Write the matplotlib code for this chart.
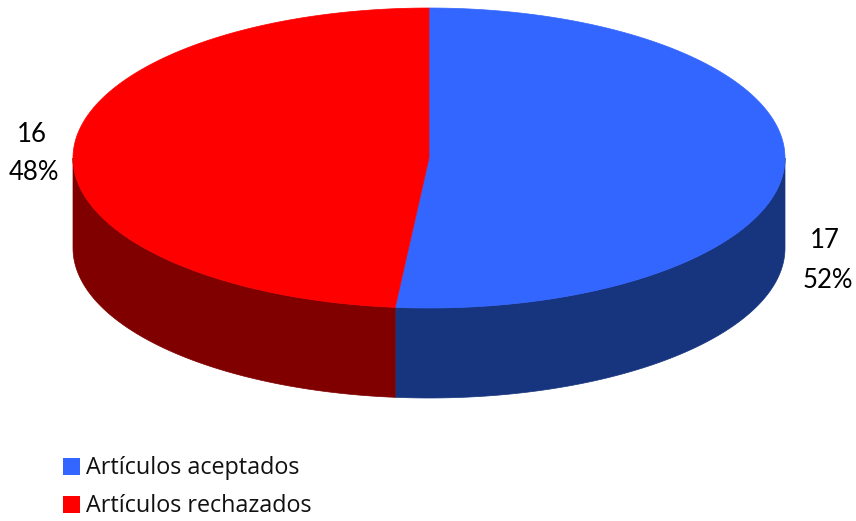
import numpy as np
import matplotlib
matplotlib.use('Agg')
import matplotlib.pyplot as plt
from matplotlib.patches import Rectangle

categories = ['Artículos aceptados', 'Artículos rechazados']
values = [17, 16]
percent_labels = ['52%', '48%']
top_colors = ['#3366FF', '#FF0000']
side_colors = ['#17357F', '#800000']

W, H = 856, 521
cx, cy = 429, 158
rx, ry = 356, 150
depth = 90

plt.rcParams['font.family'] = ['Lato', 'DejaVu Sans']
fig = plt.figure(figsize=(W / 100, H / 100), dpi=100)
ax = fig.add_axes([0, 0, 1, 1])
ax.set_xlim(0, W)
ax.set_ylim(H, 0)
ax.axis('off')


def rim(a0, a1):
    # angles clockwise from 12 o'clock
    t = np.linspace(a0, a1, 200)
    return cx + rx * np.sin(t), cy - ry * np.cos(t)


fractions = np.array(values) / sum(values)
edges = np.concatenate([[0], np.cumsum(fractions)]) * 2 * np.pi

# side walls first, only the front half of the rim shows
for i in range(len(values)):
    a0 = max(edges[i], np.pi / 2)
    a1 = min(edges[i + 1], 3 * np.pi / 2)
    x, y = rim(a0, a1)
    ax.fill(np.r_[x, x[::-1]], np.r_[y, y[::-1] + depth],
            color=side_colors[i], lw=0.5)

for i in range(len(values)):
    x, y = rim(edges[i], edges[i + 1])
    ax.fill(np.r_[cx, x], np.r_[cy, y], color=top_colors[i], lw=0.5)

ax.text(825, 241, str(values[0]), ha='center', va='center', fontsize=18.5, color='black')
ax.text(828, 281, percent_labels[0], ha='center', va='center', fontsize=18.5, color='black')
ax.text(32, 134, str(values[1]), ha='center', va='center', fontsize=18.5, color='black')
ax.text(34, 173, percent_labels[1], ha='center', va='center', fontsize=18.5, color='black')

for i, name in enumerate(categories):
    y = 466.5 + i * 38
    ax.add_patch(Rectangle((63, y - 8.5), 17, 17, color=top_colors[i], lw=0))
    ax.text(86, y + 1, name, ha='left', va='center', fontsize=16.8,
            family='Open Sans', color='#111111')

fig.savefig('out.png', dpi=100)
